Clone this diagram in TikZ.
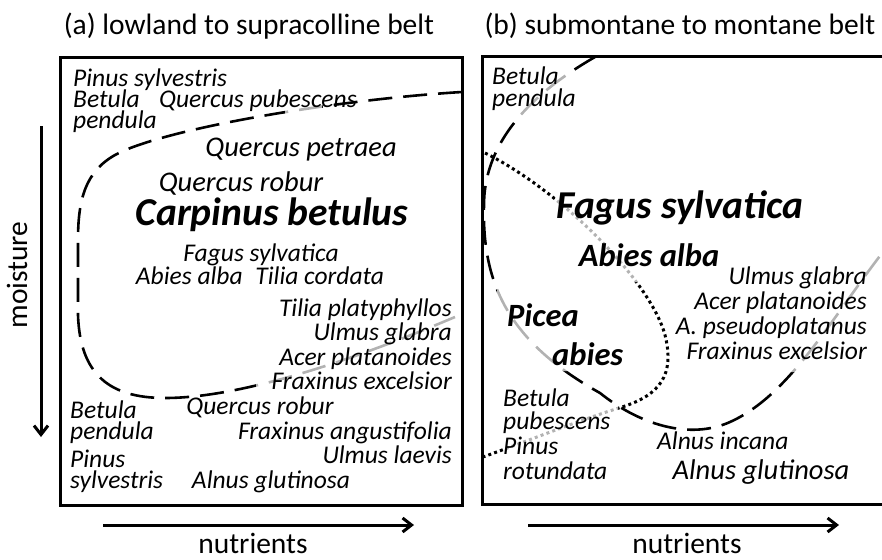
\documentclass[tikz,border=0pt]{standalone}
\usepackage{fontspec}
\setmainfont{Carlito}
\usetikzlibrary{arrows.meta}
\tikzset{%
  sp/.style={font=\fontsize{25.5}{27}\selectfont\itshape,inner sep=0pt,text height=14pt,text depth=1pt},
  spm/.style={sp,font=\fontsize{28.5}{30}\selectfont\itshape,text height=16pt,text depth=1.5pt},
  spbig/.style={sp,font=\fontsize{39.5}{41}\selectfont\bfseries\itshape,text height=28pt,text depth=8pt},
  spbold/.style={sp,font=\fontsize{32.5}{34}\selectfont\bfseries\itshape,text height=23pt,text depth=7pt},
  axislab/.style={font=\fontsize{29.5}{31}\selectfont,inner sep=0pt,anchor=base,text depth=0pt},
  frame/.style={line width=3pt},
  axisarrow/.style={line width=3pt,-{Straight Barb[length=9pt,width=14pt]}},
  bound/.style={line width=2.6pt,dash pattern=on 24pt off 11pt},
  dotline/.style={line width=3pt,dash pattern=on 3pt off 3.2pt},
  greyed/.style={draw=black!30}%
}
% boundary curves (pixel coordinates)
\newcommand\curveA{(462,92) .. controls (330,100) and (160,130) .. (115,155)
  .. controls (85,172) and (78,200) .. (78,240) -- (78,315)
  .. controls (80,375) and (110,398) .. (165,398)
  .. controls (230,398) and (330,370) .. (455,317)}
\newcommand\curveB{(595,57) .. controls (520,100) and (484,150) .. (484,205)
  .. controls (482,280) and (505,340) .. (600,393)
  .. controls (640,425) and (690,440) .. (730,422)
  .. controls (790,395) and (830,320) .. (886,248)}
\newcommand\curveC{(485,153) .. controls (560,190) and (650,280) .. (665,335)
  .. controls (675,375) and (660,395) .. (622,407)
  .. controls (580,420) and (530,440) .. (483,457)}

\begin{document}
\begin{tikzpicture}[x=1pt,y=-1pt]
\clip (0,0) rectangle (882,559);

% titles and axes
\node[axislab] (titleA) at (249,35) {(a) lowland to supracolline belt};
\node[axislab] (titleB) at (680,35) {(b) submontane to montane belt};
\node[axislab,rotate=90] (moist) at (27,275) {moisture};
\node[axislab] (nutA) at (253,553) {nutrients};
\node[axislab] (nutB) at (687,553) {nutrients};
\coordinate (mtop) at (41,126);
\coordinate (mbot) at (41,437);
\coordinate (naL) at (103,525);
\coordinate (naR) at (414,525);
\coordinate (nbL) at (528,525);
\coordinate (nbR) at (839,525);
\draw[axisarrow] (mtop) -- (mbot);
\draw[axisarrow] (naL) -- (naR);
\draw[axisarrow] (nbL) -- (nbR);

% frames
\draw[frame] (60,58) rectangle (462,505);
\draw[frame] (890,57) -- (482,57) -- (482,504) -- (890,504);

% (a) boundary
\begin{scope}[even odd rule]
  \clip (0,0) rectangle (882,559) (285,100) rectangle (322,120) (256,300) rectangle (470,395);
  \draw[bound] \curveA;
\end{scope}
\begin{scope}
  \clip (285,100) rectangle (322,120) (256,300) rectangle (470,395);
  \draw[bound,greyed] \curveA;
\end{scope}

% (b) boundaries
\begin{scope}[even odd rule]
  \clip (0,0) rectangle (882,559) (513,70) rectangle (572,122) (497,288) rectangle (568,371) (785,200) rectangle (890,372);
  \draw[bound] \curveB;
\end{scope}
\begin{scope}
  \clip (513,70) rectangle (572,122) (497,288) rectangle (568,371) (785,200) rectangle (890,372);
  \draw[bound,greyed] \curveB;
\end{scope}
\begin{scope}[even odd rule]
  \clip (0,0) rectangle (882,559) (555,192) rectangle (641,282) (503,405) rectangle (618,462);
  \draw[dotline] \curveC;
\end{scope}
\begin{scope}
  \clip (555,192) rectangle (641,282) (503,405) rectangle (618,462);
  \draw[dotline,greyed] \curveC;
\end{scope}

% (a) species
\node[sp,anchor=west] (pinsylA) at (73,80) {Pinus sylvestris};
\node[sp,anchor=west] (betA) at (73,101) {Betula};
\node[sp,anchor=west] (querpub) at (159,101) {Quercus pubescens};
\node[sp,anchor=west] (penA) at (73,122) {pendula};
\node[spm] (querpet) at (301,149) {Quercus petraea};
\node[spm] (querrobA) at (241,184) {Quercus robur};
\node[spbig] (carpbet) at (272,215) {Carpinus betulus};
\node[sp] (fagA) at (261,255) {Fagus sylvatica};
\node[sp] (abtil) at (260,278) {Abies alba\enspace Tilia cordata};
\node[sp,anchor=east] (tilpla) at (452,310) {Tilia platyphyllos};
\node[sp,anchor=east] (ulmglaA) at (452,334) {Ulmus glabra};
\node[sp,anchor=east] (acerA) at (452,359) {Acer platanoides};
\node[sp,anchor=east] (fraxA) at (452,383) {Fraxinus excelsior};
\node[sp,anchor=west] (betlow) at (70,412) {Betula};
\node[sp,anchor=west] (penlow) at (70,433) {pendula};
\node[sp] (querrobL) at (260,408) {Quercus robur};
\node[sp,anchor=east] (fraxang) at (452,433) {Fraxinus angustifolia};
\node[sp,anchor=east] (ulmlae) at (452,457) {Ulmus laevis};
\node[sp,anchor=west] (pinlow) at (70,461) {Pinus};
\node[sp,anchor=west] (syllow) at (70,482) {sylvestris};
\node[sp] (alnglA) at (271,482) {Alnus glutinosa};

% (b) species
\node[sp,anchor=west] (betB) at (492,78) {Betula};
\node[sp,anchor=west] (penB) at (492,100) {pendula};
\node[spbig] (fagB) at (680,208) {Fagus sylvatica};
\node[spbold] (abiesB) at (649,258) {Abies alba};
\node[sp,anchor=east] (ulmglaB) at (867,278) {Ulmus glabra};
\node[sp,anchor=east] (acerB) at (867,303) {Acer platanoides};
\node[sp,anchor=east] (acerps) at (867,328) {A. pseudoplatanus};
\node[sp,anchor=east] (fraxB) at (867,353) {Fraxinus excelsior};
\node[spbold,anchor=west] (picea) at (507,318) {Picea};
\node[spbold,anchor=west] (abies) at (552,357) {abies};
\node[sp,anchor=west] (betpub) at (503,400) {Betula};
\node[sp,anchor=west] (pubes) at (503,423) {pubescens};
\node[sp,anchor=west] (pinrot) at (503,448) {Pinus};
\node[sp,anchor=west] (rotund) at (503,473) {rotundata};
\node[sp,anchor=west] (alninc) at (657,443) {Alnus incana};
\node[spm] (alnglB) at (761,472) {Alnus glutinosa};
\end{tikzpicture}
\end{document}
